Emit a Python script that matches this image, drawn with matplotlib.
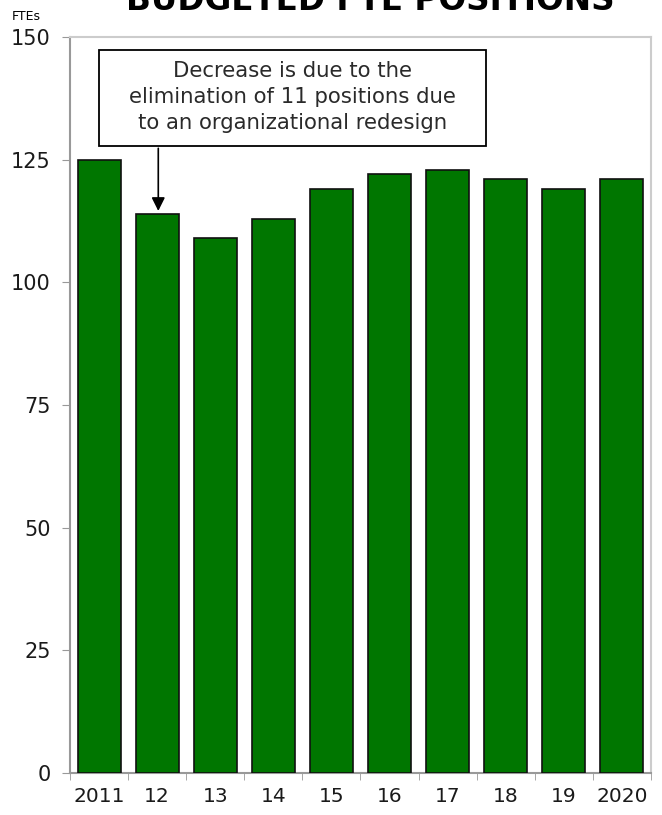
import numpy as np
import matplotlib
matplotlib.use("Agg")
from matplotlib import pyplot as plt
from matplotlib.patches import Rectangle

# budgeted FTE positions by fiscal year
years = ['2011', '12', '13', '14', '15', '16', '17', '18', '19', '2020']
ftes = [125, 114, 109, 113, 119, 122, 123, 121, 119, 121]

note = 'Decrease is due to the\nelimination of 11 positions due\nto an organizational redesign'

fig = plt.figure(figsize=(6.62, 8.15), dpi=100)
ax = fig.add_axes([0.1057, 0.0515, 0.8776, 0.903])

x = np.arange(len(years))
ax.bar(x, ftes, width=0.74, color='#007600', edgecolor='#101010', linewidth=1.2, zorder=3)

ax.set_xlim(-0.5, len(years) - 0.5)
ax.set_ylim(0, 150)
ax.set_yticks([0, 25, 50, 75, 100, 125, 150])
ax.set_xticks(x)
ax.set_xticklabels(years)
ax.set_xticks(np.arange(-0.5, len(years)), minor=True)
ax.tick_params(axis='x', which='major', length=0, labelsize=14.5, pad=10, labelcolor='#1a1a1a')
ax.tick_params(axis='x', which='minor', length=5, color='#999999')
ax.tick_params(axis='y', length=6, color='#999999', labelsize=15, pad=8, labelcolor='#1a1a1a')

for side in ['left', 'bottom']:
    ax.spines[side].set_color('#999999')
    ax.spines[side].set_linewidth(1.5)
for side in ['top', 'right']:
    ax.spines[side].set_color('#cccccc')
    ax.spines[side].set_linewidth(1.5)

# annotation box with arrow down to the 2012 bar
ax.add_patch(Rectangle((0.0, 127.9), 6.66, 19.4, facecolor='white', edgecolor='black',
                       linewidth=1.3, zorder=4))
ax.text(3.33, 137.8, note, ha='center', va='center', fontsize=15.3,
        color='#2a2a2a', linespacing=1.35, zorder=5)
ax.annotate('', xy=(1.02, ftes[1]), xytext=(1.02, 127.9),
            arrowprops=dict(arrowstyle='-|>', color='black', lw=1.2, mutation_scale=20))

fig.text(0.018, 0.98, 'FTEs', fontsize=9, ha='left', va='center')
fig.text(0.56, 1.0, 'BUDGETED FTE POSITIONS', fontsize=23.5, fontweight='bold',
         ha='center', va='center')

fig.savefig('out.png', dpi=100)
